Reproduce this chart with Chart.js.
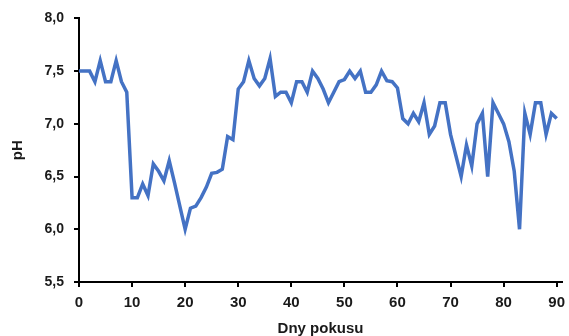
<!DOCTYPE html>
<html>
<head>
<meta charset="utf-8">
<script src="https://cdn.jsdelivr.net/npm/chart.js@4/dist/chart.umd.min.js"></script>
<style>
  html, body { margin: 0; padding: 0; background: #fff; }
  #wrap { width: 569px; height: 336px; }
</style>
</head>
<body>
<div id="wrap"><canvas id="c" width="569" height="336"></canvas></div>
<script>
// Measured pH per day of the trial
const days = [
  0, 1, 2, 3, 4, 5, 6, 7, 8, 9,
  10, 11, 12, 13, 14, 15, 16, 17, 18, 19,
  20, 21, 22, 23, 24, 25, 26, 27, 28, 29,
  30, 31, 32, 33, 34, 35, 36, 37, 38, 39,
  40, 41, 42, 43, 44, 45, 46, 47, 48, 49,
  50, 51, 52, 53, 54, 55, 56, 57, 58, 59,
  60, 61, 62, 63, 64, 65, 66, 67, 68, 69,
  70, 71, 72, 73, 74, 75, 76, 77, 78, 79,
  80, 81, 82, 83, 84, 85, 86, 87, 88, 89,
  90
];
const ph = [
  7.5, 7.5, 7.5, 7.4, 7.6, 7.4, 7.4, 7.6, 7.4, 7.3,
  6.3, 6.3, 6.43, 6.32, 6.62, 6.55, 6.46, 6.65, 6.44, 6.22,
  6.0, 6.2, 6.22, 6.3, 6.4, 6.53, 6.54, 6.57, 6.88, 6.85,
  7.33, 7.4, 7.6, 7.43, 7.36, 7.43, 7.62, 7.26, 7.3, 7.3,
  7.2, 7.4, 7.4, 7.3, 7.5, 7.43, 7.33, 7.2, 7.3, 7.4,
  7.42, 7.5, 7.43, 7.5, 7.3, 7.3, 7.37, 7.5, 7.41, 7.4,
  7.34, 7.05, 7.0, 7.1, 7.02, 7.2, 6.9, 6.98, 7.2, 7.2,
  6.9, 6.7, 6.5, 6.8, 6.6, 7.0, 7.1, 6.5, 7.2, 7.1,
  7.0, 6.83, 6.55, 6.0, 7.1, 6.9, 7.2, 7.2, 6.9, 7.1,
  7.05
];
const xTicks = [0, 10, 20, 30, 40, 50, 60, 70, 80, 90];
const yTicks = [5.5, 6.0, 6.5, 7.0, 7.5, 8.0];
const xTitle = 'Dny pokusu';
const yTitle = 'pH';

const points = days.map((d, i) => ({ x: d, y: ph[i] }));
const fontFamily = '"Liberation Sans", Arial, sans-serif';
const ink = '#1a1a1a';

new Chart(document.getElementById('c'), {
  type: 'line',
  data: {
    datasets: [{
      data: points,
      borderColor: 'rgb(68,114,196)',
      borderWidth: 3.5,
      pointRadius: 0,
      tension: 0,
      fill: false
    }]
  },
  options: {
    responsive: false,
    animation: false,
    events: [],
    layout: { padding: { top: 14, right: 0, bottom: 0, left: 0 } },
    plugins: { legend: { display: false }, tooltip: { enabled: false } },
    scales: {
      x: {
        type: 'linear',
        min: 0,
        max: 91,
        afterBuildTicks: s => { s.ticks = xTicks.map(v => ({ value: v })); },
        afterFit: s => { s.height = 54; s.paddingRight = 7; },
        ticks: {
          color: ink,
          font: { family: fontFamily, size: 15, weight: 'bold' },
          padding: 7,
          maxRotation: 0
        },
        grid: { drawOnChartArea: false, drawTicks: true, tickLength: 5, color: '#000', lineWidth: 2 },
        border: { display: true, color: '#000', width: 2 },
        title: {
          display: true,
          text: xTitle,
          color: ink,
          font: { family: fontFamily, size: 15, weight: 'bold', lineHeight: 1.0 },
          padding: { top: 0, bottom: 0 }
        }
      },
      y: {
        min: 5.5,
        max: 8.0,
        afterBuildTicks: s => { s.ticks = yTicks.map(v => ({ value: v })); },
        afterFit: s => { s.width = 79; },
        ticks: {
          color: ink,
          font: { family: fontFamily, size: 14, weight: 'bold' },
          padding: 10,
          callback: v => v.toFixed(1).replace('.', ',')
        },
        grid: { drawOnChartArea: false, drawTicks: true, tickLength: 5, color: '#000', lineWidth: 2 },
        border: { display: true, color: '#000', width: 2 },
        title: {
          display: true,
          text: yTitle,
          color: ink,
          font: { family: fontFamily, size: 15, weight: 'bold' },
          padding: { top: 9, bottom: 0 }
        }
      }
    }
  }
});
</script>
</body>
</html>
